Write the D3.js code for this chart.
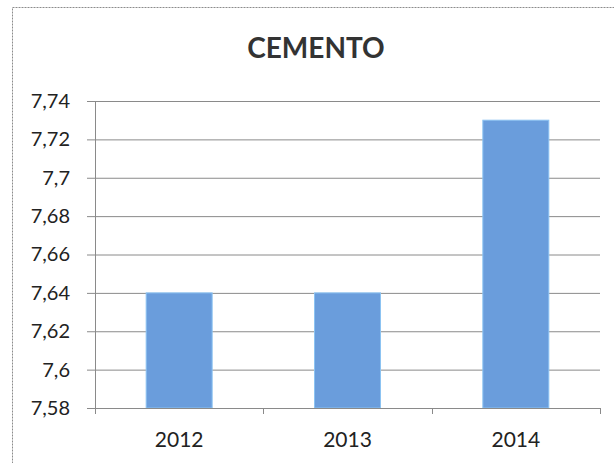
<!DOCTYPE html>
<html>
<head>
<meta charset="utf-8">
<script src="https://cdn.jsdelivr.net/npm/d3@7"></script>
<style>
  html, body { margin: 0; padding: 0; background: #fff; }
  svg { display: block; }
</style>
</head>
<body>
<svg id="chart" width="614" height="463"></svg>
<script>
// data
const chartTitle = "CEMENTO";
const years = ["2012", "2013", "2014"];
const values = [7.64, 7.64, 7.73];
const yTicks = [7.58, 7.6, 7.62, 7.64, 7.66, 7.68, 7.7, 7.72, 7.74];

const svg = d3.select("#chart");
const plot = { left: 95, right: 600, top: 101, bottom: 408 };

const esLocale = d3.formatLocale({ decimal: ",", thousands: ".", grouping: [3], currency: ["", "€"] });
const fmt = esLocale.format(".2~f");

const x = d3.scaleBand().domain(years).range([plot.left, plot.right])
  .paddingInner(0.608).paddingOuter(0.304);
const xCat = d3.scaleBand().domain(years).range([plot.left, plot.right]).padding(0);
const y = d3.scaleLinear().domain([7.58, 7.74]).range([plot.bottom, plot.top]);

// outer chart border (runs off the scan on the right and bottom)
svg.append("rect")
  .attr("x", 12.5).attr("y", 7.5)
  .attr("width", 700).attr("height", 500)
  .attr("fill", "none")
  .attr("stroke", "#8c8c8c")
  .attr("stroke-dasharray", "2,1");

// title
svg.append("text")
  .attr("x", 316).attr("y", 58)
  .attr("text-anchor", "middle")
  .style("font-family", "Lato, 'Open Sans', sans-serif")
  .style("font-weight", "bold")
  .style("font-size", "28px")
  .style("fill", "#333")
  .text(chartTitle);

// gridlines + y axis
const yAxis = svg.append("g")
  .attr("transform", `translate(${plot.left},0)`)
  .call(d3.axisLeft(y).tickValues(yTicks).tickFormat(fmt)
    .tickSize(-(plot.right - plot.left)).tickSizeOuter(0).tickPadding(25));
yAxis.select(".domain").remove();
yAxis.selectAll(".tick line")
  .attr("x1", -8)
  .attr("stroke", "#8a8a8a");
yAxis.selectAll("text")
  .style("font-family", "Lato, 'Open Sans', sans-serif")
  .style("font-size", "20px")
  .style("fill", "#222");

// vertical axis line
svg.append("line")
  .attr("x1", plot.left + 0.5).attr("x2", plot.left + 0.5)
  .attr("y1", plot.top).attr("y2", plot.bottom + 6)
  .attr("stroke", "#8a8a8a");

// bars
svg.selectAll("rect.bar")
  .data(years.map((yr, i) => ({ year: yr, value: values[i] })))
  .join("rect")
  .attr("class", "bar")
  .attr("x", d => x(d.year))
  .attr("y", d => y(d.value))
  .attr("width", x.bandwidth())
  .attr("height", d => y(7.58) - y(d.value))
  .attr("fill", "#6a9ddc")
  .attr("stroke", "#8cc3f2")
  .attr("stroke-width", 1);

// category axis
const xAxis = svg.append("g")
  .attr("transform", `translate(0,${plot.bottom})`);
xAxis.append("line")
  .attr("x1", plot.left).attr("x2", plot.right)
  .attr("y1", 0.5).attr("y2", 0.5)
  .attr("stroke", "#8a8a8a");
const bounds = years.map(d => xCat(d)).concat([xCat.range()[1]]);
xAxis.selectAll("line.tick")
  .data(bounds)
  .join("line")
  .attr("class", "tick")
  .attr("x1", d => Math.round(d) + 0.5).attr("x2", d => Math.round(d) + 0.5)
  .attr("y1", 0).attr("y2", 6)
  .attr("stroke", "#8a8a8a");
xAxis.selectAll("text")
  .data(years)
  .join("text")
  .attr("x", d => xCat(d) + xCat.bandwidth() / 2)
  .attr("y", 39)
  .attr("text-anchor", "middle")
  .style("font-family", "Lato, 'Open Sans', sans-serif")
  .style("font-size", "21px")
  .style("fill", "#222")
  .text(d => d);
</script>
</body>
</html>
